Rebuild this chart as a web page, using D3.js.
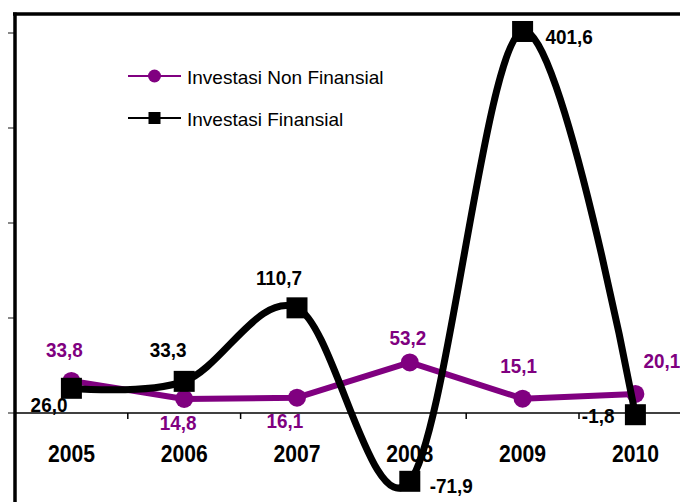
<!DOCTYPE html>
<html>
<head>
<meta charset="utf-8">
<script src="https://cdn.jsdelivr.net/npm/d3@7"></script>
<style>
  html, body { margin: 0; padding: 0; background: #fff; }
  svg { display: block; font-family: "Liberation Sans", Arial, sans-serif; }
</style>
</head>
<body>
<svg id="chart" width="680" height="502"></svg>
<script>
// ---- data ----
const years = ["2005", "2006", "2007", "2008", "2009", "2010"];
const nonFinansial = [33.8, 14.8, 16.1, 53.2, 15.1, 20.1];
const finansial = [26.0, 33.3, 110.7, -71.9, 401.6, -1.8];
const nonFinansialLabels = ["33,8", "14,8", "16,1", "53,2", "15,1", "20,1"];
const finansialLabels = ["26,0", "33,3", "110,7", "-71,9", "401,6", "-1,8"];
const yTicks = [0, 100, 200, 300, 400];
const seriesNames = ["Investasi Non Finansial", "Investasi Finansial"];

// label placement relative to the point: [dx, dy, anchor]
const nonFinPlace = [[-7,-24,"middle"],[-6,31,"middle"],[-12,30,"middle"],[-2,-17,"middle"],[-4,-26,"middle"],[8,-26,"start"]];
const finPlace = [[-4,24,"end"],[-16,-24,"middle"],[-18,-23,"middle"],[20,12,"start"],[23,13,"start"],[-21,8,"end"]];

const purple = "#800080";
const svg = d3.select("#chart");

const x = d3.scaleBand().domain(years).range([15, 15 + 112.8 * 6]).paddingInner(0).paddingOuter(0);
const y = d3.scaleLinear().domain([-100, 420]).range([508, 14]);
const cx = d => x(d) + x.bandwidth() / 2;

// y-axis tick marks (gray, outside)
svg.append("g").selectAll("line").data(yTicks).join("line")
  .attr("x1", 8).attr("x2", 15)
  .attr("y1", d => y(d)).attr("y2", d => y(d))
  .attr("stroke", "#888").attr("stroke-width", 2);

// zero axis line
svg.append("line")
  .attr("x1", 15).attr("x2", 680)
  .attr("y1", y(0)).attr("y2", y(0))
  .attr("stroke", "#000").attr("stroke-width", 1.5);

// x tick marks at category boundaries
const bounds = years.map(d => x(d)).concat([x(years[years.length - 1]) + x.bandwidth()]);
svg.append("g").selectAll("line").data(bounds).join("line")
  .attr("x1", d => d).attr("x2", d => d)
  .attr("y1", y(0)).attr("y2", y(0) + 6)
  .attr("stroke", "#000").attr("stroke-width", 1.5);

// year labels
svg.append("g").selectAll("text").data(years).join("text")
  .attr("transform", d => `translate(${cx(d)},462) scale(0.9,1)`)
  .attr("text-anchor", "middle")
  .attr("font-size", 23.5).attr("font-weight", "bold")
  .attr("fill", "#000")
  .text(d => d);

// plot frame: left axis and top border
svg.append("line").attr("x1", 15).attr("x2", 15).attr("y1", y(420) - 1.5).attr("y2", 502)
  .attr("stroke", "#000").attr("stroke-width", 3.5);
svg.append("line").attr("x1", 13).attr("x2", 680).attr("y1", y(420)).attr("y2", y(420))
  .attr("stroke", "#000").attr("stroke-width", 3.5);

// purple series (straight line)
const lineStraight = d3.line().x((d, i) => cx(years[i])).y(d => y(d));
svg.append("path").datum(nonFinansial)
  .attr("d", lineStraight)
  .attr("fill", "none").attr("stroke", purple).attr("stroke-width", 6)
  .attr("stroke-linejoin", "round");
svg.append("g").selectAll("circle").data(nonFinansial).join("circle")
  .attr("cx", (d, i) => cx(years[i])).attr("cy", d => y(d)).attr("r", 9)
  .attr("fill", purple);

// black series (smoothed)
const lineSmooth = d3.line().x((d, i) => cx(years[i])).y(d => y(d)).curve(d3.curveCardinal.tension(0));
svg.append("path").datum(finansial)
  .attr("d", lineSmooth)
  .attr("fill", "none").attr("stroke", "#000").attr("stroke-width", 7)
  .attr("stroke-linejoin", "round");
svg.append("g").selectAll("rect").data(finansial).join("rect")
  .attr("x", (d, i) => cx(years[i]) - 10.5).attr("y", d => y(d) - 10.5)
  .attr("width", 21).attr("height", 21)
  .attr("fill", "#000");

// data labels
function labels(values, texts, place, color) {
  svg.append("g").selectAll("text").data(values).join("text")
    .attr("transform", (d, i) => `translate(${cx(years[i]) + place[i][0]},${y(d) + place[i][1]}) scale(0.9,1)`)
    .attr("text-anchor", (d, i) => place[i][2])
    .attr("font-size", 21).attr("font-weight", "bold")
    .attr("fill", color)
    .text((d, i) => texts[i]);
}
labels(nonFinansial, nonFinansialLabels, nonFinPlace, purple);
labels(finansial, finansialLabels, finPlace, "#000");

// legend
const leg = svg.append("g");
const legY = [76, 118];
const legColors = [purple, "#000"];
seriesNames.forEach((name, i) => {
  leg.append("line").attr("x1", 128).attr("x2", 181).attr("y1", legY[i]).attr("y2", legY[i])
    .attr("stroke", legColors[i]).attr("stroke-width", 2);
  if (i === 0) {
    leg.append("circle").attr("cx", 154.5).attr("cy", legY[i]).attr("r", 6.5).attr("fill", purple);
  } else {
    leg.append("rect").attr("x", 148.5).attr("y", legY[i] - 6).attr("width", 12).attr("height", 12).attr("fill", "#000");
  }
  leg.append("text").attr("x", 187).attr("y", legY[i] + 8)
    .attr("font-size", 19).attr("fill", "#000")
    .text(name);
});
</script>
</body>
</html>
